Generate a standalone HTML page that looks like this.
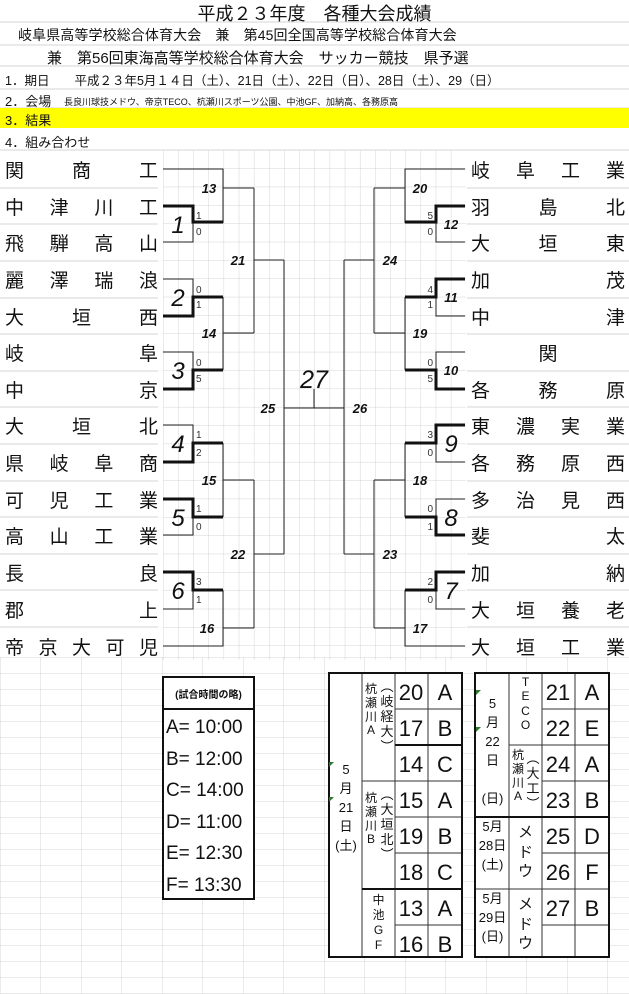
<!DOCTYPE html>
<html><head><meta charset="utf-8"><style>
body{margin:0;width:629px;height:994px;overflow:hidden;background:#fff;font-family:"Liberation Sans","Noto Sans CJK JP",sans-serif;}
#w{position:relative;width:629px;height:994px;}
svg{position:absolute;left:0;top:0;}
.nm{position:absolute;height:30px;display:flex;justify-content:space-between;align-items:center;font-size:19px;color:#111;}
.nm.c{justify-content:center;}
.t{position:absolute;white-space:nowrap;color:#111;}
.v{position:absolute;text-align:center;line-height:1.15;color:#111;}
</style></head><body><div id="w">
<svg width="629" height="994" xmlns="http://www.w3.org/2000/svg">
<defs>
<pattern id="g" x="163" y="150" width="15.15" height="18.35" patternUnits="userSpaceOnUse">
<path d="M0 0V18.35M0 0H15.15" stroke="#d4d4d4" stroke-width="1" fill="none"/></pattern>
<pattern id="g2" x="0" y="657" width="40.5" height="16" patternUnits="userSpaceOnUse">
<path d="M0 0V16M0 0H40.5" stroke="#d4d4d4" stroke-width="1" fill="none"/></pattern>
</defs>
<rect x="163" y="150" width="303" height="510" fill="url(#g)"/>
<rect x="0" y="657" width="629" height="337" fill="url(#g2)"/>
<g stroke="#d4d4d4" stroke-width="1">
<line x1="0" y1="22" x2="629" y2="22"/><line x1="0" y1="45" x2="629" y2="45"/><line x1="0" y1="66" x2="629" y2="66"/><line x1="0" y1="89" x2="629" y2="89"/><line x1="0" y1="108" x2="629" y2="108"/><line x1="0" y1="150" x2="629" y2="150"/>
<line x1="0" y1="188" x2="158" y2="188"/><line x1="0" y1="224" x2="158" y2="224"/><line x1="0" y1="261" x2="158" y2="261"/><line x1="0" y1="298" x2="158" y2="298"/><line x1="0" y1="334" x2="158" y2="334"/><line x1="0" y1="371" x2="158" y2="371"/><line x1="0" y1="407" x2="158" y2="407"/><line x1="0" y1="444" x2="158" y2="444"/><line x1="0" y1="481" x2="158" y2="481"/><line x1="0" y1="517" x2="158" y2="517"/><line x1="0" y1="554" x2="158" y2="554"/><line x1="0" y1="590" x2="158" y2="590"/><line x1="0" y1="627" x2="158" y2="627"/>
<line x1="467" y1="188" x2="629" y2="188"/><line x1="467" y1="224" x2="629" y2="224"/><line x1="467" y1="261" x2="629" y2="261"/><line x1="467" y1="298" x2="629" y2="298"/><line x1="467" y1="334" x2="629" y2="334"/><line x1="467" y1="371" x2="629" y2="371"/><line x1="467" y1="407" x2="629" y2="407"/><line x1="467" y1="444" x2="629" y2="444"/><line x1="467" y1="481" x2="629" y2="481"/><line x1="467" y1="517" x2="629" y2="517"/><line x1="467" y1="554" x2="629" y2="554"/><line x1="467" y1="590" x2="629" y2="590"/><line x1="467" y1="627" x2="629" y2="627"/>
</g>
<rect x="0" y="108" width="629" height="20" fill="#ffff00"/>
<g stroke="#222" stroke-width="1" fill="none">
<path d="M163 169H223V223"/><path d="M163 242H193V222"/><path d="M223 188H254"/>
<path d="M163 279H193V297"/><path d="M163 352H193V370"/>
<path d="M223 297V370M223 333H254"/><path d="M254 188V333M254 260H284"/>
<path d="M163 425H193V443"/><path d="M163 535H193V517"/><path d="M163 609H193V590"/>
<path d="M223 443V517M223 480H254"/><path d="M163 646H223V590M223 628H254"/>
<path d="M254 480V628M254 554H284"/><path d="M284 260V554M284 408H344M314 408V389"/>
<path d="M465 169H405V223"/><path d="M465 242H436V222"/><path d="M405 188H374"/>
<path d="M465 316H436V297"/><path d="M465 352H436V370"/>
<path d="M405 297V370M405 333H374"/><path d="M374 188V333M374 260H344"/>
<path d="M465 462H436V443"/><path d="M465 499H436V517"/><path d="M465 609H436V590"/>
<path d="M405 443V517M405 480H374"/><path d="M465 646H405V590M405 628H374"/>
<path d="M374 480V628M374 554H344"/><path d="M344 260V554"/>
</g>
<g stroke="#111" stroke-width="3" fill="none">
<path d="M163 206H193V222H223"/><path d="M163 316H193V297H223"/><path d="M163 389H193V370H223"/>
<path d="M163 462H193V443H223"/><path d="M163 499H193V517H223"/><path d="M163 572H193V590H223"/>
<path d="M465 206H436V222H405"/><path d="M465 279H436V297H405"/><path d="M465 389H436V370H405"/>
<path d="M465 425H436V443H405"/><path d="M465 535H436V517H405"/><path d="M465 572H436V590H405"/>
</g>
<g font-family="Liberation Sans" font-style="italic" fill="#111" text-anchor="middle" font-size="24">
<text x="178" y="233">1</text><text x="178" y="306">2</text><text x="178" y="379">3</text><text x="178" y="452">4</text><text x="178" y="526">5</text><text x="178" y="599">6</text>
<text x="451" y="599">7</text><text x="451" y="526">8</text><text x="451" y="452">9</text>
<text x="314" y="388" font-size="25">27</text>
</g>
<g font-family="Liberation Sans" font-style="italic" font-weight="bold" fill="#111" text-anchor="middle" font-size="13">
<text x="451" y="375">10</text><text x="451" y="302">11</text><text x="451" y="229">12</text>
<text x="209" y="193">13</text><text x="209" y="338">14</text><text x="209" y="485">15</text><text x="207" y="633">16</text>
<text x="238" y="265">21</text><text x="238" y="559">22</text><text x="268" y="413">25</text><text x="360" y="413">26</text>
<text x="420" y="193">20</text><text x="420" y="338">19</text><text x="420" y="485">18</text><text x="420" y="633">17</text>
<text x="390" y="265">24</text><text x="390" y="559">23</text>
</g>
<g font-family="Liberation Sans" fill="#333" font-size="10">
<text x="196" y="219">1</text><text x="196" y="235">0</text><text x="196" y="293">0</text><text x="196" y="308">1</text><text x="196" y="366">0</text><text x="196" y="382">5</text>
<text x="196" y="438">1</text><text x="196" y="456">2</text><text x="196" y="512">1</text><text x="196" y="530">0</text><text x="196" y="585">3</text><text x="196" y="603">1</text>
<g text-anchor="end"><text x="433" y="219">5</text><text x="433" y="235">0</text><text x="433" y="293">4</text><text x="433" y="308">1</text><text x="433" y="366">0</text><text x="433" y="382">5</text>
<text x="433" y="438">3</text><text x="433" y="456">0</text><text x="433" y="512">0</text><text x="433" y="530">1</text><text x="433" y="585">2</text><text x="433" y="603">0</text></g>
</g>
<rect x="163" y="677" width="91" height="222" fill="#fff" stroke="#111" stroke-width="2"/>
<line x1="163" y1="709" x2="254" y2="709" stroke="#111" stroke-width="2"/>
<g fill="#fff" stroke="#333" stroke-width="1">
<rect x="329" y="673" width="133" height="284"/><rect x="475" y="673" width="134" height="284"/>
</g>
<g stroke="#333" stroke-width="1">
<line x1="362" y1="673" x2="362" y2="957"/><line x1="395" y1="673" x2="395" y2="957"/><line x1="428" y1="673" x2="428" y2="957"/>
<line x1="395" y1="709" x2="462" y2="709"/><line x1="395" y1="781" x2="462" y2="781"/><line x1="362" y1="781" x2="395" y2="781"/><line x1="395" y1="817" x2="462" y2="817"/><line x1="395" y1="853" x2="462" y2="853"/><line x1="395" y1="925" x2="462" y2="925"/>
<line x1="509" y1="673" x2="509" y2="957"/><line x1="542" y1="673" x2="542" y2="957"/><line x1="575" y1="673" x2="575" y2="957"/>
<line x1="542" y1="709" x2="609" y2="709"/><line x1="509" y1="745" x2="609" y2="745"/><line x1="542" y1="781" x2="609" y2="781"/><line x1="542" y1="853" x2="609" y2="853"/><line x1="475" y1="889" x2="609" y2="889"/><line x1="542" y1="925" x2="609" y2="925"/>
</g>
<g stroke="#111" stroke-width="2" fill="none">
<rect x="329" y="673" width="133" height="284"/><rect x="475" y="673" width="134" height="284"/>
<line x1="395" y1="745" x2="462" y2="745"/><line x1="362" y1="889" x2="462" y2="889"/><line x1="475" y1="817" x2="609" y2="817"/>
</g>
<g fill="#2a7a2a"><path d="M329 762l5 0-5 5z"/><path d="M329 797l5 0-5 5z"/><path d="M476 690l5 0-5 5z"/><path d="M476 727l5 0-5 5z"/></g>
<g font-family="Liberation Sans" font-size="22" fill="#111" text-anchor="middle">
<text x="411" y="700">20</text><text x="411" y="736">17</text><text x="411" y="772">14</text><text x="411" y="808">15</text><text x="411" y="844">19</text><text x="411" y="880">18</text><text x="411" y="916">13</text><text x="411" y="952">16</text>
<text x="445" y="700">A</text><text x="445" y="736">B</text><text x="445" y="772">C</text><text x="445" y="808">A</text><text x="445" y="844">B</text><text x="445" y="880">C</text><text x="445" y="916">A</text><text x="445" y="952">B</text>
<text x="558" y="700">21</text><text x="558" y="736">22</text><text x="558" y="772">24</text><text x="558" y="808">23</text><text x="558" y="844">25</text><text x="558" y="880">26</text><text x="558" y="916">27</text>
<text x="592" y="700">A</text><text x="592" y="736">E</text><text x="592" y="772">A</text><text x="592" y="808">B</text><text x="592" y="844">D</text><text x="592" y="880">F</text><text x="592" y="916">B</text>
</g>
</svg>
<div class="t" style="left:0;width:629px;text-align:center;top:0px;font-size:18px;">平成２３年度　各種大会成績</div>
<div class="t" style="left:18px;top:25px;font-size:14px;letter-spacing:0.1px;">岐阜県高等学校総合体育大会　兼　第45回全国高等学校総合体育大会</div>
<div class="t" style="left:47px;top:47px;font-size:15px;">兼　第56回東海高等学校総合体育大会　サッカー競技　県予選</div>
<div class="t" style="left:5px;top:70px;font-size:12.5px;">1．期日　　平成２３年5月１４日（土）、21日（土）、22日（日）、28日（土）、29（日）</div>
<div class="t" style="left:5px;top:91px;font-size:13px;">2．会場</div>
<div class="t" style="left:64px;top:95px;font-size:9px;">長良川球技メドウ、帝京TECO、杭瀬川スポーツ公園、中池GF、加納高、各務原高</div>
<div class="t" style="left:5px;top:110px;font-size:13px;">3．結果</div>
<div class="t" style="left:5px;top:132px;font-size:13px;">4．組み合わせ</div>

<div class="nm" style="left:5px;top:154px;width:153px"><span>関</span><span>商</span><span>工</span></div>
<div class="nm" style="left:5px;top:191px;width:153px"><span>中</span><span>津</span><span>川</span><span>工</span></div>
<div class="nm" style="left:5px;top:227px;width:153px"><span>飛</span><span>騨</span><span>高</span><span>山</span></div>
<div class="nm" style="left:5px;top:264px;width:153px"><span>麗</span><span>澤</span><span>瑞</span><span>浪</span></div>
<div class="nm" style="left:5px;top:301px;width:153px"><span>大</span><span>垣</span><span>西</span></div>
<div class="nm" style="left:5px;top:337px;width:153px"><span>岐</span><span>阜</span></div>
<div class="nm" style="left:5px;top:374px;width:153px"><span>中</span><span>京</span></div>
<div class="nm" style="left:5px;top:410px;width:153px"><span>大</span><span>垣</span><span>北</span></div>
<div class="nm" style="left:5px;top:447px;width:153px"><span>県</span><span>岐</span><span>阜</span><span>商</span></div>
<div class="nm" style="left:5px;top:484px;width:153px"><span>可</span><span>児</span><span>工</span><span>業</span></div>
<div class="nm" style="left:5px;top:520px;width:153px"><span>高</span><span>山</span><span>工</span><span>業</span></div>
<div class="nm" style="left:5px;top:557px;width:153px"><span>長</span><span>良</span></div>
<div class="nm" style="left:5px;top:594px;width:153px"><span>郡</span><span>上</span></div>
<div class="nm" style="left:5px;top:631px;width:153px"><span>帝</span><span>京</span><span>大</span><span>可</span><span>児</span></div>

<div class="nm" style="left:471px;top:154px;width:154px"><span>岐</span><span>阜</span><span>工</span><span>業</span></div>
<div class="nm" style="left:471px;top:191px;width:154px"><span>羽</span><span>島</span><span>北</span></div>
<div class="nm" style="left:471px;top:227px;width:154px"><span>大</span><span>垣</span><span>東</span></div>
<div class="nm" style="left:471px;top:264px;width:154px"><span>加</span><span>茂</span></div>
<div class="nm" style="left:471px;top:301px;width:154px"><span>中</span><span>津</span></div>
<div class="nm c" style="left:471px;top:337px;width:154px"><span>関</span></div>
<div class="nm" style="left:471px;top:374px;width:154px"><span>各</span><span>務</span><span>原</span></div>
<div class="nm" style="left:471px;top:410px;width:154px"><span>東</span><span>濃</span><span>実</span><span>業</span></div>
<div class="nm" style="left:471px;top:447px;width:154px"><span>各</span><span>務</span><span>原</span><span>西</span></div>
<div class="nm" style="left:471px;top:484px;width:154px"><span>多</span><span>治</span><span>見</span><span>西</span></div>
<div class="nm" style="left:471px;top:520px;width:154px"><span>斐</span><span>太</span></div>
<div class="nm" style="left:471px;top:557px;width:154px"><span>加</span><span>納</span></div>
<div class="nm" style="left:471px;top:594px;width:154px"><span>大</span><span>垣</span><span>養</span><span>老</span></div>
<div class="nm" style="left:471px;top:631px;width:154px"><span>大</span><span>垣</span><span>工</span><span>業</span></div>

<div class="t" style="left:165px;top:686px;width:87px;text-align:center;font-size:10px;font-weight:bold;">(試合時間の略)</div>
<div class="t" style="left:166px;top:712px;font-size:19px;line-height:31.5px;">A= 10:00<br>B= 12:00<br>C= 14:00<br>D= 11:00<br>E= 12:30<br>F= 13:30</div>

<div class="v" style="left:330px;top:760px;width:32px;font-size:13px;line-height:19px;">5<br>月<br>21<br>日<br>(土)</div>
<div class="v" style="left:363px;top:683px;width:16px;font-size:12px;">杭<br>瀬<br>川<br>A</div>
<div class="v" style="left:379px;top:680px;width:16px;font-size:13px;">︵<br>岐<br>経<br>大<br>︶</div>
<div class="v" style="left:363px;top:792px;width:16px;font-size:12px;">杭<br>瀬<br>川<br>B</div>
<div class="v" style="left:379px;top:788px;width:16px;font-size:13px;">︵<br>大<br>垣<br>北<br>︶</div>
<div class="v" style="left:362px;top:893px;width:33px;font-size:12px;line-height:1.25;">中<br>池<br>G<br>F</div>

<div class="v" style="left:476px;top:694px;width:33px;font-size:13px;line-height:19px;">5<br>月<br>22<br>日<br><br>(日)</div>
<div class="v" style="left:509px;top:675px;width:33px;font-size:12px;line-height:1.2;">T<br>E<br>C<br>O</div>
<div class="v" style="left:510px;top:749px;width:16px;font-size:12px;">杭<br>瀬<br>川<br>A</div>
<div class="v" style="left:525px;top:752px;width:16px;font-size:13px;">︵<br>大<br>工<br>︶</div>
<div class="v" style="left:476px;top:817px;width:33px;font-size:13px;line-height:19px;">5月<br>28日<br>(土)</div>
<div class="v" style="left:509px;top:823px;width:33px;font-size:15px;line-height:1.3;">メ<br>ド<br>ウ</div>
<div class="v" style="left:476px;top:889px;width:33px;font-size:13px;line-height:19px;">5月<br>29日<br>(日)</div>
<div class="v" style="left:509px;top:895px;width:33px;font-size:15px;line-height:1.3;">メ<br>ド<br>ウ</div>
</div></body></html>
